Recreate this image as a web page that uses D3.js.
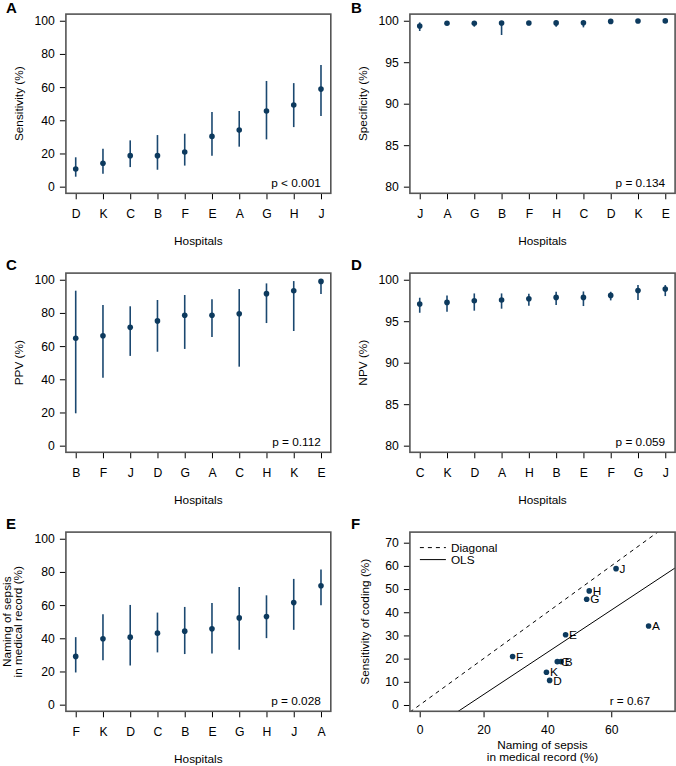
<!DOCTYPE html>
<html><head><meta charset="utf-8">
<script src="https://cdn.jsdelivr.net/npm/d3@7"></script>
<style>
body{margin:0;background:#fff;}
svg{display:block;font-family:"Liberation Sans",Arial,Helvetica,sans-serif;}
</style></head><body>
<svg id="c" width="676" height="766"></svg>
<script>
// ---------- DATA ----------
// A: Sensitivity (%)
const sensHospitals = ["D","K","C","B","F","E","A","G","H","J"];
const sensEst = [10.6, 14.1, 18.7, 18.7, 20.9, 30.3, 34.1, 45.6, 49.2, 58.8];
const sensLo  = [6.0, 7.8, 11.8, 10.2, 12.7, 18.7, 24.1, 28.5, 35.9, 42.6];
const sensHi  = [17.7, 22.9, 27.9, 31.1, 31.9, 45.0, 45.6, 63.7, 62.4, 73.3];
// B: Specificity (%)
const specHospitals = ["J","A","G","B","F","H","C","D","K","E"];
const specEst = [99.36, 99.69, 99.69, 99.72, 99.72, 99.74, 99.75, 99.92, 99.96, 99.98];
const specLo  = [98.76, 99.50, 99.28, 98.28, 99.45, 99.28, 99.20, 99.75, 99.80, 99.85];
const specHi  = [99.80, 99.90, 99.95, 99.95, 99.95, 99.96, 99.97, 100, 100, 100];
// C: PPV (%)
const ppvHospitals = ["B","F","J","D","G","A","C","H","K","E"];
const ppvEst = [64.7, 66.2, 71.3, 75.2, 78.6, 78.6, 79.5, 91.6, 93.4, 99.0];
const ppvLo  = [19.5, 41.0, 54.1, 56.6, 58.3, 65.5, 47.6, 73.9, 69.1, 91.4];
const ppvHi  = [93.4, 84.8, 84.0, 87.8, 90.8, 88.2, 94.4, 97.8, 99.2, 100];
// D: NPV (%)
const npvHospitals = ["C","K","D","A","H","B","E","F","G","J"];
const npvEst = [97.07, 97.27, 97.47, 97.55, 97.71, 97.87, 97.87, 98.11, 98.71, 98.88];
const npvLo  = [96.02, 96.14, 96.27, 96.51, 96.87, 96.95, 96.83, 97.51, 97.55, 98.03];
const npvHi  = [97.83, 98.11, 98.35, 98.35, 98.31, 98.55, 98.59, 98.55, 99.36, 99.36];
// E: Naming of sepsis in medical record (%)
const nameHospitals = ["F","K","D","C","B","E","G","H","J","A"];
const nameEst = [29.1, 39.7, 40.7, 43.1, 44.3, 45.7, 52.3, 53.1, 61.5, 71.7];
const nameLo  = [19.4, 26.7, 23.6, 31.5, 30.5, 30.9, 33.1, 40.1, 45.1, 59.9];
const nameHi  = [40.7, 54.5, 60.1, 55.5, 58.9, 61.3, 70.9, 65.9, 75.8, 81.4];
// F: scatter hospitals (values taken from A and E)
const scatterHospitals = ["A","B","C","D","E","F","G","H","J","K"];
// tick values / labels
const pctTicks = [0, 20, 40, 60, 80, 100];
const highTicks = [80, 85, 90, 95, 100];
const fXTicks = [0, 20, 40, 60];
const fYTicks = [0, 10, 20, 30, 40, 50, 60, 70];
const pTexts = ["p < 0.001", "p = 0.134", "p = 0.112", "p = 0.059", "p = 0.028"];
const rText = "r = 0.67";

// ---------- LAYOUT ----------
const svg = d3.select("#c");
const FS = 11.8, TFS = 12.2;
const DOT = "#0d3a5e", LINE = "#1b4870";
const colX = [[65.9, 330.8], [409.9, 675.1]];
const rowY = [[14.1, 193.3], [273.1, 452.3], [532.1, 711.3]];

function styleAxis(g) {
  g.attr("font-family", null).attr("font-size", null);
  g.select(".domain").remove();
  g.selectAll(".tick line").attr("stroke", "#000").attr("stroke-width", 1);
  g.selectAll(".tick text").attr("fill", "#000").style("font-size", TFS + "px");
}

function box(g, x0, x1, y0, y1) {
  g.append("rect").attr("x", x0).attr("y", y0).attr("width", x1 - x0).attr("height", y1 - y0)
    .attr("fill", "none").attr("stroke", "#555").attr("stroke-width", 1.6);
}

function letter(g, t, x, y) {
  g.append("text").attr("x", x).attr("y", y).text(t)
    .style("font-size", "15px").style("font-weight", "bold");
}

function yTitle(g, lines, cx, cy) {
  const t = g.append("text").attr("transform", `translate(${cx},${cy}) rotate(-90)`)
    .attr("text-anchor", "middle").style("font-size", FS + "px");
  lines.forEach((l, i) => {
    t.append("tspan").attr("x", 0).attr("dy", i === 0 ? (0.35 - (lines.length - 1) * 0.5 * 0.93) + "em" : "0.93em").text(l);
  });
}

function ciPanel(cfg) {
  const [x0, x1] = colX[cfg.col], [y0, y1] = rowY[cfg.row];
  const g = svg.append("g");
  const n = cfg.cats.length;
  const x = d3.scaleLinear().domain([0.64, n + 0.36]).range([x0, x1]);
  const y = d3.scaleLinear().domain(cfg.yDom).range([y1, y0]);

  g.append("g").attr("transform", `translate(${x0},0)`)
    .call(d3.axisLeft(y).tickValues(cfg.ticks).tickSize(6).tickSizeOuter(0).tickPadding(5))
    .call(styleAxis);
  g.append("g").attr("transform", `translate(0,${y1})`)
    .call(d3.axisBottom(x).tickValues(d3.range(1, n + 1)).tickFormat(i => cfg.cats[i - 1])
      .tickSize(6).tickSizeOuter(0).tickPadding(10))
    .call(styleAxis);

  const data = cfg.cats.map((c, i) => ({c, i: i + 1, e: cfg.est[i], lo: cfg.lo[i], hi: cfg.hi[i]}));
  g.selectAll("line.ci").data(data).join("line").attr("class", "ci")
    .attr("x1", d => x(d.i)).attr("x2", d => x(d.i))
    .attr("y1", d => y(d.lo)).attr("y2", d => y(d.hi))
    .attr("stroke", LINE).attr("stroke-width", 1.6);
  g.selectAll("circle").data(data).join("circle")
    .attr("cx", d => x(d.i)).attr("cy", d => y(d.e)).attr("r", 2.8).attr("fill", DOT);

  box(g, x0, x1, y0, y1);

  g.append("text").attr("x", x1 - 10).attr("y", y1 - 6).attr("text-anchor", "end")
    .style("font-size", FS + "px").text(cfg.p);
  g.append("text").attr("x", (x0 + x1) / 2).attr("y", y1 + 51.5).attr("text-anchor", "middle")
    .style("font-size", FS + "px").text("Hospitals");
  yTitle(g, cfg.yTitle, x0 - cfg.titleOff, (y0 + y1) / 2);
  letter(g, cfg.letter, cfg.col === 0 ? 6 : 351, Math.max(y0 - 3, 12.5));
}

ciPanel({col:0,row:0,cats:sensHospitals,est:sensEst,lo:sensLo,hi:sensHi,yDom:[-4,104],ticks:pctTicks,p:pTexts[0],yTitle:["Sensitivity (%)"],titleOff:47,letter:"A"});
ciPanel({col:1,row:0,cats:specHospitals,est:specEst,lo:specLo,hi:specHi,yDom:[79.2,100.8],ticks:highTicks,p:pTexts[1],yTitle:["Specificity (%)"],titleOff:47,letter:"B"});
ciPanel({col:0,row:1,cats:ppvHospitals,est:ppvEst,lo:ppvLo,hi:ppvHi,yDom:[-4,104],ticks:pctTicks,p:pTexts[2],yTitle:["PPV (%)"],titleOff:47,letter:"C"});
ciPanel({col:1,row:1,cats:npvHospitals,est:npvEst,lo:npvLo,hi:npvHi,yDom:[79.2,100.8],ticks:highTicks,p:pTexts[3],yTitle:["NPV (%)"],titleOff:47,letter:"D"});
ciPanel({col:0,row:2,cats:nameHospitals,est:nameEst,lo:nameLo,hi:nameHi,yDom:[-4,104],ticks:pctTicks,p:pTexts[4],yTitle:["Naming of sepsis","in medical record (%)"],titleOff:54,letter:"E"});

// ---------- PANEL F ----------
(function() {
  const [x0, x1] = colX[1], [y0, y1] = rowY[2];
  const g = svg.append("g");
  const x = d3.scaleLinear().domain([-3.07, 80]).range([x0, x1]);
  const y = d3.scaleLinear().domain([-2.72, 74.57]).range([y1, y0]);
  const pts = scatterHospitals.map(h => ({
    h,
    x: nameEst[nameHospitals.indexOf(h)],
    y: sensEst[sensHospitals.indexOf(h)]
  }));
  // OLS fit from the plotted points
  const mx = d3.mean(pts, d => d.x), my = d3.mean(pts, d => d.y);
  const slope = d3.sum(pts, d => (d.x - mx) * (d.y - my)) / d3.sum(pts, d => (d.x - mx) ** 2);
  const icpt = my - slope * mx;

  svg.append("clipPath").attr("id", "clipF").append("rect")
    .attr("x", x0).attr("y", y0).attr("width", x1 - x0).attr("height", y1 - y0);

  g.append("g").attr("transform", `translate(${x0},0)`)
    .call(d3.axisLeft(y).tickValues(fYTicks).tickSize(6).tickSizeOuter(0).tickPadding(5))
    .call(styleAxis);
  g.append("g").attr("transform", `translate(0,${y1})`)
    .call(d3.axisBottom(x).tickValues(fXTicks).tickSize(6).tickSizeOuter(0).tickPadding(8))
    .call(styleAxis);

  const lg = g.append("g").attr("clip-path", "url(#clipF)");
  const xd = x.domain();
  lg.append("line").attr("x1", x(xd[0])).attr("y1", y(xd[0])).attr("x2", x(xd[1])).attr("y2", y(xd[1]))
    .attr("stroke", "#000").attr("stroke-width", 1).attr("stroke-dasharray", "4,4");
  lg.append("line").attr("x1", x(xd[0])).attr("y1", y(icpt + slope * xd[0]))
    .attr("x2", x(xd[1])).attr("y2", y(icpt + slope * xd[1]))
    .attr("stroke", "#000").attr("stroke-width", 1);

  g.selectAll("circle").data(pts).join("circle")
    .attr("cx", d => x(d.x)).attr("cy", d => y(d.y)).attr("r", 2.8).attr("fill", DOT);
  g.selectAll("text.lab").data(pts).join("text").attr("class", "lab")
    .attr("x", d => x(d.x) + 3.5).attr("y", d => y(d.y)).attr("dy", "0.35em")
    .style("font-size", FS + "px").text(d => d.h);

  box(g, x0, x1, y0, y1);

  // legend
  const leg = [{t: "Diagonal", dash: "4,4"}, {t: "OLS", dash: null}];
  leg.forEach((l, i) => {
    const yy = y0 + 15.5 + i * 12;
    g.append("line").attr("x1", x0 + 10).attr("x2", x0 + 36).attr("y1", yy).attr("y2", yy)
      .attr("stroke", "#000").attr("stroke-width", 1).attr("stroke-dasharray", l.dash);
    g.append("text").attr("x", x0 + 41).attr("y", yy).attr("dy", "0.35em")
      .style("font-size", FS + "px").text(l.t);
  });

  g.append("text").attr("x", 650).attr("y", y1 - 6).attr("text-anchor", "end")
    .style("font-size", FS + "px").text(rText);
  const xt = g.append("text").attr("text-anchor", "middle").style("font-size", FS + "px");
  xt.append("tspan").attr("x", (x0 + x1) / 2).attr("y", y1 + 37.8).text("Naming of sepsis");
  xt.append("tspan").attr("x", (x0 + x1) / 2).attr("y", y1 + 50.1).text("in medical record (%)");
  yTitle(g, ["Sensitivity of coding (%)"], x0 - 44.6, (y0 + y1) / 2);
  letter(g, "F", 351, y0 - 3);
})();
</script>
</body></html>
